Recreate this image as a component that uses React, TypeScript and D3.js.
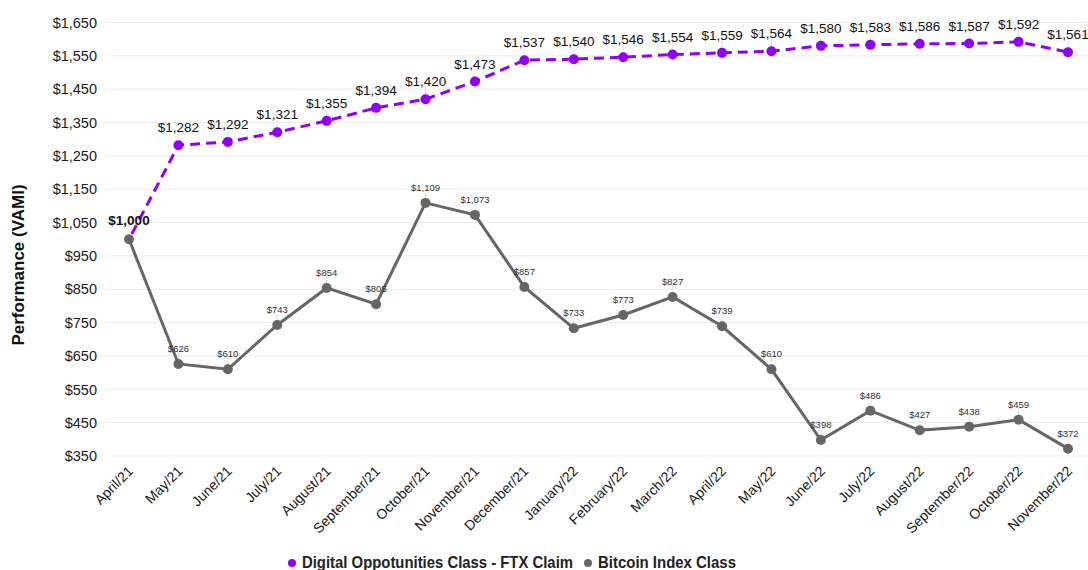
import React, { useEffect, useRef } from "react";
import * as d3 from "d3";

const months = [
  "April/21", "May/21", "June/21", "July/21", "August/21", "September/21",
  "October/21", "November/21", "December/21", "January/22", "February/22",
  "March/22", "April/22", "May/22", "June/22", "July/22", "August/22",
  "September/22", "October/22", "November/22",
];
const digital = [1000, 1282, 1292, 1321, 1355, 1394, 1420, 1473, 1537, 1540, 1546, 1554, 1559, 1564, 1580, 1583, 1586, 1587, 1592, 1561];
const bitcoin = [1000, 626, 610, 743, 854, 805, 1109, 1073, 857, 733, 773, 827, 739, 610, 398, 486, 427, 438, 459, 372];
const yTicks = [350, 450, 550, 650, 750, 850, 950, 1050, 1150, 1250, 1350, 1450, 1550, 1650];

const PURPLE = "#9000f5";
const GREY = "#666666";
const FONT = "Liberation Sans, Arial, sans-serif";

export default function App() {
  const ref = useRef<SVGSVGElement>(null);

  useEffect(() => {
    const svg = d3.select(ref.current);
    svg.selectAll("*").remove();

    const x = d3.scalePoint<string>().domain(months).range([129, 1068]);
    const y = d3.scaleLinear().domain([350, 1650]).range([456, 22.5]);
    const fmt = (v: number) => "$" + d3.format(",")(v);

    // grid + y axis labels
    const g = svg.append("g");
    g.selectAll(".grid").data(yTicks).enter().append("line")
      .attr("x1", 105).attr("x2", 1088)
      .attr("y1", d => y(d)).attr("y2", d => y(d))
      .attr("stroke", "#ebebeb").attr("stroke-width", 1);
    g.selectAll(".ylab").data(yTicks).enter().append("text")
      .attr("x", 97).attr("y", d => y(d)).attr("dy", "0.36em")
      .attr("text-anchor", "end").attr("font-size", 14.5).attr("fill", "#1a1a1a")
      .text(d => fmt(d));

    svg.append("text")
      .attr("transform", "translate(24,265) rotate(-90)")
      .attr("text-anchor", "middle").attr("font-size", 17).attr("font-weight", "bold")
      .attr("fill", "#111").text("Performance (VAMI)");

    // x labels
    g.selectAll(".xlab").data(months).enter().append("text")
      .attr("transform", d => `translate(${x(d)! + 5},${472}) rotate(-45)`)
      .attr("text-anchor", "end").attr("font-size", 14).attr("fill", "#1a1a1a")
      .text(d => d);

    const line = d3.line<number>().x((_, i) => x(months[i])!).y(d => y(d));

    // leader lines
    const leaders = (data: number[], off: number) =>
      g.append("g").selectAll("line").data(data.slice(1)).enter().append("line")
        .attr("x1", (_, i) => x(months[i + 1])!).attr("x2", (_, i) => x(months[i + 1])!)
        .attr("y1", d => y(d) - off).attr("y2", d => y(d))
        .attr("stroke", "#e3e3e3").attr("stroke-width", 1);
    leaders(digital, 14);
    leaders(bitcoin, 12);

    svg.append("path").datum(bitcoin).attr("d", line)
      .attr("fill", "none").attr("stroke", GREY).attr("stroke-width", 3);
    svg.append("path").datum(digital).attr("d", line)
      .attr("fill", "none").attr("stroke", PURPLE).attr("stroke-width", 3)
      .attr("stroke-dasharray", "10,6").attr("stroke-dashoffset", -6);

    svg.append("g").selectAll("circle").data(bitcoin).enter().append("circle")
      .attr("cx", (_, i) => x(months[i])!).attr("cy", d => y(d)).attr("r", 5)
      .attr("fill", GREY);
    svg.append("g").selectAll("circle").data(digital.slice(1)).enter().append("circle")
      .attr("cx", (_, i) => x(months[i + 1])!).attr("cy", d => y(d)).attr("r", 5)
      .attr("fill", PURPLE);

    // value labels
    svg.append("g").selectAll("text").data(digital.slice(1)).enter().append("text")
      .attr("x", (_, i) => x(months[i + 1])!).attr("y", d => y(d) - 13)
      .attr("text-anchor", "middle").attr("font-size", 13.5).attr("fill", "#111")
      .text(d => fmt(d));
    svg.append("g").selectAll("text").data(bitcoin.slice(1)).enter().append("text")
      .attr("x", (_, i) => x(months[i + 1])!).attr("y", d => y(d) - 12)
      .attr("text-anchor", "middle").attr("font-size", 9.5).attr("fill", "#333")
      .text(d => fmt(d));
    svg.append("text")
      .attr("x", x(months[0])!).attr("y", y(1000) - 14)
      .attr("text-anchor", "middle").attr("font-size", 13.5).attr("font-weight", "bold")
      .attr("fill", "#111").text(fmt(1000));

    // legend (sits at the bottom edge, like the source)
    const legend = [
      { label: "Digital Oppotunities Class - FTX Claim", color: PURPLE, x: 292, w: 271 },
      { label: "Bitcoin Index Class", color: GREY, x: 588, w: 138 },
    ];
    const lg = svg.append("g").selectAll("g").data(legend).enter().append("g");
    lg.append("circle").attr("cx", d => d.x).attr("cy", 563).attr("r", 4).attr("fill", d => d.color);
    lg.append("text").attr("x", d => d.x + 10).attr("y", 568)
      .attr("font-size", 16.5).attr("font-weight", "bold").attr("fill", "#222")
      .attr("textLength", d => d.w).attr("lengthAdjust", "spacingAndGlyphs")
      .text(d => d.label);
  }, []);

  return (
    <svg ref={ref} width={1088} height={570}
      style={{ position: "absolute", left: 0, top: 0, fontFamily: FONT, background: "#fff" }} />
  );
}
